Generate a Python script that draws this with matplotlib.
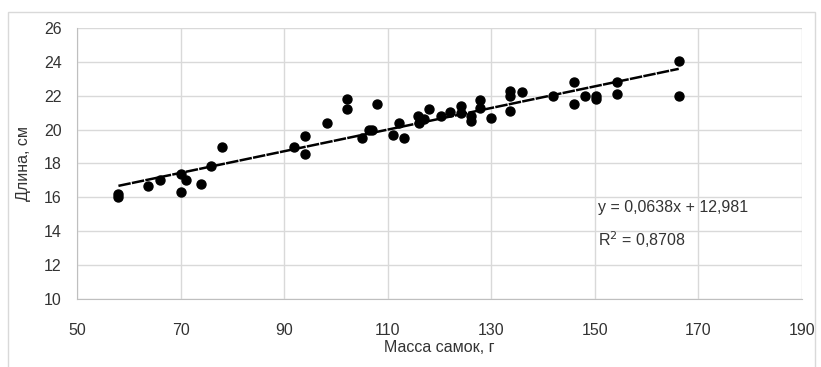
import matplotlib
matplotlib.use("Agg")
import matplotlib.pyplot as plt
from matplotlib.patches import Rectangle
import numpy as np

# mass of females, g
mass = [58, 58, 63.8, 66, 70.1, 70.1, 71.1, 74, 75.9, 78,
        91.9, 94, 94, 98.2, 102.1, 102.1, 105, 106.3, 106.9, 108,
        111, 112.1, 113.2, 115.8, 116, 117.1, 117.9, 120.2, 122.1, 124.2,
        124.2, 126, 126, 127.9, 127.9, 130, 133.7, 133.7, 133.7, 135.9,
        142, 146, 146, 148.1, 150.2, 150.2, 154.2, 154.2, 166.2, 166.2]
# body length, cm
length = [16.2, 16.0, 16.7, 17.0, 17.4, 16.3, 17.0, 16.8, 17.85, 19.0,
          19.0, 19.6, 18.55, 20.4, 21.8, 21.2, 19.5, 20.0, 20.0, 21.5,
          19.7, 20.4, 19.5, 20.8, 20.4, 20.6, 21.2, 20.8, 21.05, 21.4,
          21.0, 20.8, 20.5, 21.75, 21.25, 20.7, 22.3, 22.0, 21.1, 22.2,
          22.0, 22.8, 21.5, 22.0, 22.0, 21.8, 22.8, 22.1, 24.05, 22.0]

slope = 0.0638
intercept = 12.981
r2 = 0.8708

xticks = [50, 70, 90, 110, 130, 150, 170, 190]
yticks = [10, 12, 14, 16, 18, 20, 22, 24, 26]

plt.rcParams['font.family'] = ['Liberation Sans', 'DejaVu Sans']

fig = plt.figure(figsize=(8.21, 3.67), dpi=100)
# light chart-area border (bottom edge falls outside the picture)
fig.patches.append(Rectangle((8 / 821, -10 / 367), 807 / 821, 365 / 367,
                             transform=fig.transFigure, fill=False,
                             edgecolor='#d9d9d9', linewidth=1))
ax = fig.add_axes([0.0938, 0.185, 0.883, 0.739])

ax.scatter(mass, length, s=42, color='black', zorder=3)

xs = np.array([min(mass), max(mass)])
ax.plot(xs, slope * xs + intercept, color='black', linewidth=1.8,
        linestyle=(0, (5, 0.5)), zorder=2)

ax.set_xlim(50, 190)
ax.set_ylim(10, 26)
ax.set_xticks(xticks)
ax.set_yticks(yticks)
ax.grid(True, color='#d9d9d9', linewidth=1)
ax.set_axisbelow(True)
for side in ['top', 'right']:
    ax.spines[side].set_visible(False)
ax.spines['left'].set_color('#bfbfbf')
ax.spines['bottom'].set_color('#bfbfbf')
ax.tick_params(length=0, labelsize=11.5, colors='#333333')
ax.tick_params(axis='x', pad=17)
ax.tick_params(axis='y', pad=11)

ax.set_xlabel('Масса самок, г', fontsize=11.5, color='#333333', labelpad=2)
ax.set_ylabel('Длина, см', fontsize=11.5, color='#333333', labelpad=9)

ax.text(150.6, 15.43, 'y = 0,0638x + 12,981', fontsize=11.5,
        color='#333333', va='center')
ax.text(150.6, 13.48, 'R$^2$ = 0,8708', fontsize=11.5,
        color='#333333', va='center')

fig.savefig('out.png', dpi=100)
